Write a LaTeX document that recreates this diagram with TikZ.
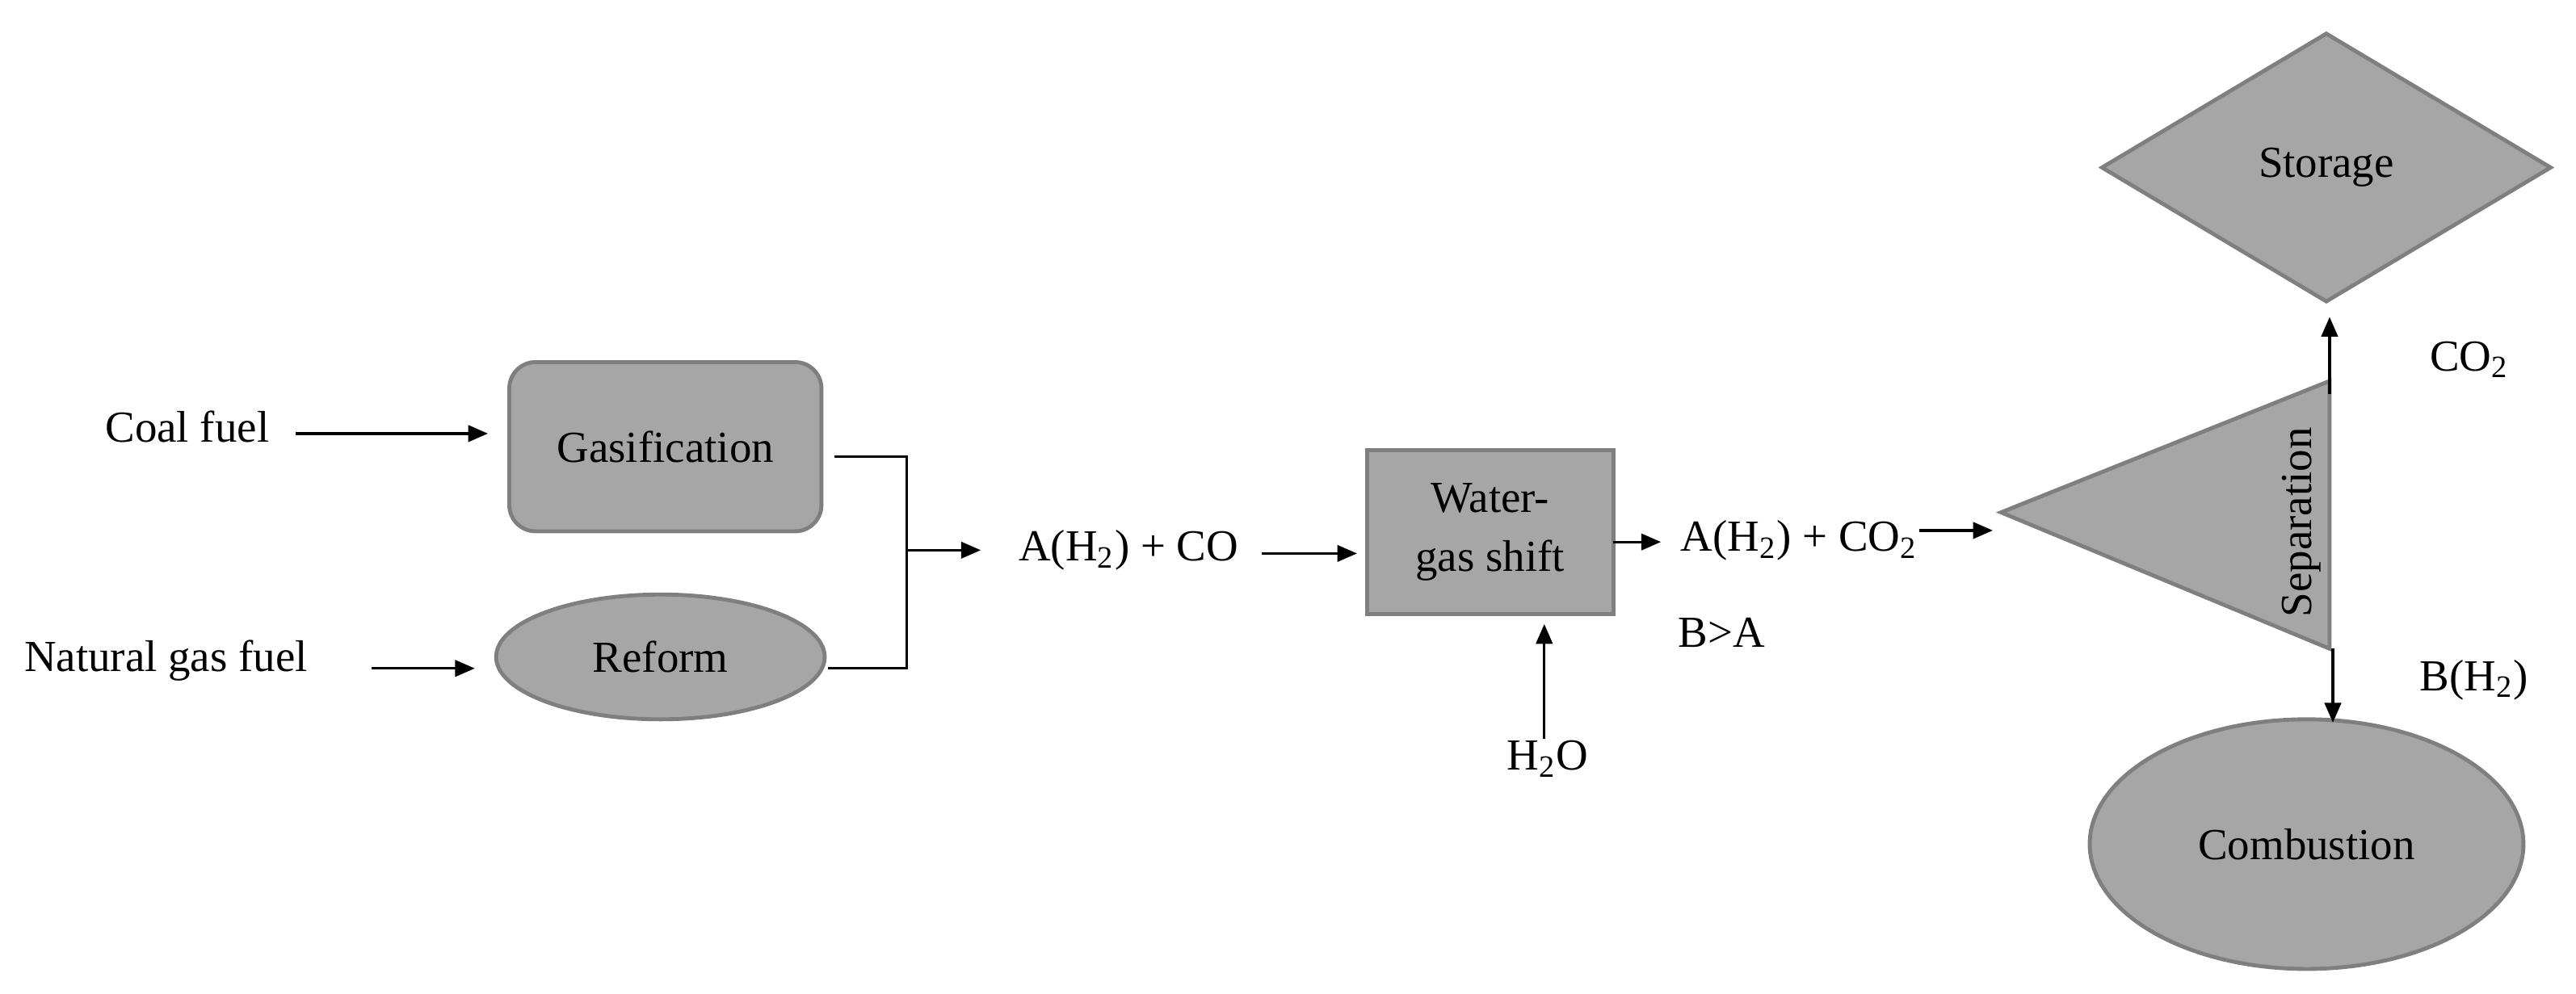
\documentclass[tikz,border=0pt]{standalone}
\usepackage{fontspec}
\setmainfont{Liberation Serif}
\usetikzlibrary{shapes.geometric,arrows.meta}
\definecolor{fillg}{HTML}{A6A6A6}
\definecolor{edgeg}{HTML}{7F7F7F}
\begin{document}
\begin{tikzpicture}[x=0.5pt,y=-0.5pt,
  every node/.style={font=\fontsize{13.5}{16}\selectfont,inner sep=0pt},
  blk/.style={fill=fillg,draw=edgeg,line width=1.2pt},
  arr/.style={-{Triangle[length=6pt,width=5pt]},line width=0.8pt},
  ln/.style={line width=0.8pt}]
\useasboundingbox (0,0) rectangle (1568,605);
% left inputs
\node (coal) at (114,260) {Coal fuel};
\node (ng) at (101,402) {Natural gas fuel};
\node[blk,rounded corners=8pt,minimum width=95pt,minimum height=51.5pt] (gas) at (405,272) {Gasification};
\node[blk,ellipse,minimum width=100pt,minimum height=38pt] (ref) at (402,400) {Reform};
\coordinate (c1) at (180,264); \coordinate (c2) at (297,264);
\draw[arr] (c1) -- (c2);
\coordinate (n1) at (226,407); \coordinate (n2) at (289,407);
\draw[arr] (n1) -- (n2);
\coordinate (g1) at (508,278); \coordinate (r1) at (504,407);
\coordinate (j) at (552,335);
\draw[ln] (g1) -| (j) |- (r1);
\node (aco) at (687,335) {A(H\textsubscript{2}) + CO};
\coordinate (j2) at (597,335);
\draw[arr] (j) -- (j2);
\node[blk,minimum width=75pt,minimum height=50pt,align=center] (wgs) at (907,324) {Water-\\[2pt]gas shift};
\coordinate (a1) at (768,337); \coordinate (a2) at (826,337);
\draw[arr] (a1) -- (a2);
\coordinate (w1) at (982,330); \coordinate (w2) at (1011,330);
\draw[arr] (w1) -- (w2);
\node (aco2) at (1095,329) {A(H\textsubscript{2}) + CO\textsubscript{2}};
\node (ba) at (1048,385) {B>A};
\node (h2o) at (942,462) {H\textsubscript{2}O};
\coordinate (h1) at (940,450); \coordinate (h2) at (940,380);
\draw[arr] (h1) -- (h2);
% separation triangle
\coordinate (t1) at (1218,312); \coordinate (t2) at (1418,232); \coordinate (t3) at (1418,395);
\draw[blk] (t1) -- (t2) -- (t3) -- cycle;
\node[rotate=90] (sep) at (1401,318) {Separation};
\coordinate (s1) at (1168,323); \coordinate (s2) at (1213,323);
\draw[arr] (s1) -- (s2);
\node[blk,diamond,minimum width=137pt,minimum height=82pt,inner sep=0pt] (sto) at (1416,102) {Storage};
\coordinate (u1) at (1418,240); \coordinate (u2) at (1418,193);
\draw[arr] (u1) -- (u2);
\node (co2) at (1503,219) {CO\textsubscript{2}};
\node[blk,ellipse,minimum width=132pt,minimum height=76pt] (comb) at (1404,514) {Combustion};
\coordinate (d1) at (1420,395); \coordinate (d2) at (1420,440);
\draw[arr] (d1) -- (d2);
\node (bh2) at (1506,414) {B(H\textsubscript{2})};
\end{tikzpicture}
\end{document}
